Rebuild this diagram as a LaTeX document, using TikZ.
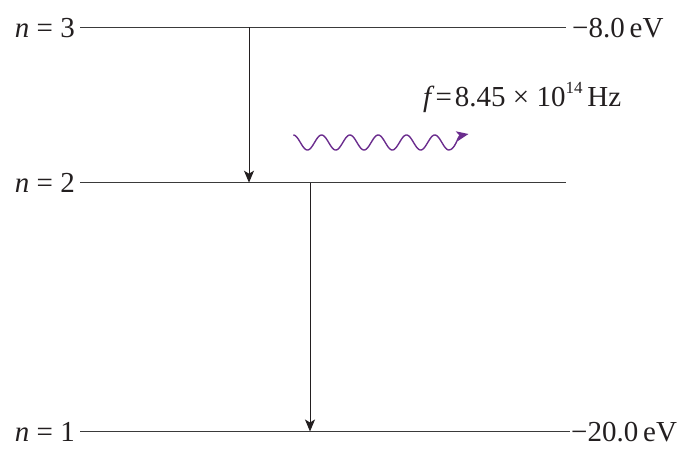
\documentclass[tikz,border=0pt]{standalone}
\usepackage{fontspec}
\setmainfont{Liberation Serif}
\usetikzlibrary{arrows.meta}
\definecolor{lvl}{HTML}{3A3A3A}
\definecolor{txt}{HTML}{231F20}
\definecolor{photon}{HTML}{6B2D8E}
\tikzset{
  level/.style={draw=lvl, line width=1.3pt},
  trans/.style={draw=txt, line width=1pt, -{Stealth[length=12pt,width=10pt,inset=3pt]}},
  wave/.style={draw=photon, line width=1.4pt, -{Stealth[length=12pt,width=10pt,inset=3pt]}},
  lbl/.style={inner sep=0pt, text=txt, font=\fontsize{29}{31}\selectfont},
}
\begin{document}
\begin{tikzpicture}[x=1pt, y=-1pt]
\useasboundingbox (0,0) rectangle (680,448);
% level endpoints
\coordinate (l3a) at (80,27.3);  \coordinate (l3b) at (566,27.3);
\coordinate (l2a) at (80,182.7); \coordinate (l2b) at (566,182.7);
\coordinate (l1a) at (80,431.5); \coordinate (l1b) at (570,431.5);
\draw[level] (l3a) -- (l3b);
\draw[level] (l2a) -- (l2b);
\draw[level] (l1a) -- (l1b);
% labels
\node[lbl, anchor=base east] (n3) at (75,37) {\textit{n} = 3};
\node[lbl, anchor=base east] (n2) at (75,192.5) {\textit{n} = 2};
\node[lbl, anchor=base east] (n1) at (75,441) {\textit{n} = 1};
\node[lbl, anchor=base west] (e3) at (572,37) {−8.0\,eV};
\node[lbl, anchor=base west] (e1) at (571,441) {−20.0\,eV};
% transitions
\coordinate (t1s) at (249,27.3);  \coordinate (t1e) at (249,182.7);
\coordinate (t2s) at (310,182.7); \coordinate (t2e) at (310,431.5);
\draw[trans] (t1s) -- (t1e);
\draw[trans] (t2s) -- (t2e);
% photon
\coordinate (wtip) at (468.5,134);
\draw[wave] plot[domain=0:5.5, samples=221, smooth] ({293.3+28.3*\x}, {142.5-7.5*cos(360*\x)})
   .. controls (455,150) and (458,136) .. (wtip);
\node[lbl, anchor=base west] (freq) at (423,106) {\textit{f}\kern1pt=\kern3pt8.45 × 10\raisebox{12.5pt}{\fontsize{17}{17}\selectfont 14}\,Hz};
\end{tikzpicture}
\end{document}
